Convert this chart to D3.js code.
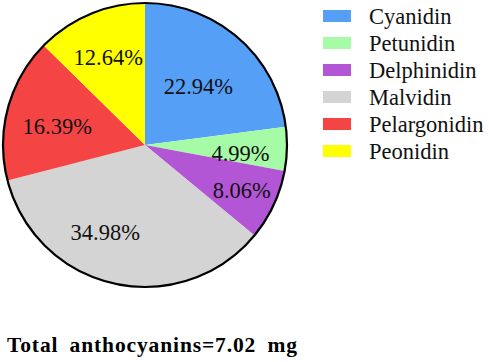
<!DOCTYPE html>
<html><head><meta charset="utf-8">
<script src="https://cdn.jsdelivr.net/npm/d3@7"></script>
<style>body{margin:0;background:#fff}svg{display:block}</style>
</head><body>
<script>
const categories = ["Cyanidin","Petunidin","Delphinidin","Malvidin","Pelargonidin","Peonidin"];
const values = [22.94, 4.99, 8.06, 34.98, 16.39, 12.64];
const colors = ["#559ff7","#a6fba6","#b356d6","#d4d4d4","#f54444","#ffff00"];
const title = "Total anthocyanins=7.02 mg";

const W = 489, H = 362;
const FONT = "'Liberation Serif'";
const cx = 145, cy = 145, R = 142;
const labelR = [0.57, 0.68, 0.76, 0.64, 0.64, 0.67];
const labelDx = [0, -1, -1, -20, 0, 0];
const labelDy = [2, 6, 0, -1, 5, 0];

const svg = d3.select("body").append("svg").attr("width", W).attr("height", H);
const pie = d3.pie().sort(null).value(d => d)(values);
const arc = d3.arc().innerRadius(0).outerRadius(R);
const g = svg.append("g").attr("transform", `translate(${cx},${cy})`);
g.selectAll("path.slice").data(pie).enter().append("path")
  .attr("class","slice").attr("d", arc).attr("fill", (d,i) => colors[i]);
g.append("circle").attr("r", R).attr("fill","none").attr("stroke","#000").attr("stroke-width",2.2);
g.selectAll("text.lbl").data(pie).enter().append("text")
  .attr("class","lbl")
  .attr("transform", (d,i) => {
    const a = (d.startAngle + d.endAngle)/2;
    const r = R*labelR[i];
    return `translate(${r*Math.sin(a)+labelDx[i]},${-r*Math.cos(a)+labelDy[i]})`;
  })
  .attr("text-anchor","middle").attr("dominant-baseline","central")
  .style("font-family", FONT).style("font-size","22.5px")
  .attr("fill","#111")
  .text(d => d.value.toFixed(2) + "%");

const leg = svg.append("g").attr("transform","translate(323,0)");
const rowY = d3.scalePoint().domain(categories).range([16, 151]);
categories.forEach((c,i) => {
  leg.append("rect").attr("x",0).attr("y",rowY(c)-6).attr("width",28).attr("height",12).attr("fill",colors[i]);
  leg.append("text").attr("x",46).attr("y",rowY(c)).attr("dominant-baseline","central")
    .style("font-family", FONT).style("font-size","22.5px").attr("fill","#111").text(c);
});

svg.append("text").attr("x",7).attr("y",352)
  .style("font-family", FONT).style("font-weight","bold").style("font-size","21.5px").style("word-spacing","5px")
  .attr("textLength",290).attr("lengthAdjust","spacing")
  .attr("fill","#000").text(title);
</script>
</body></html>
